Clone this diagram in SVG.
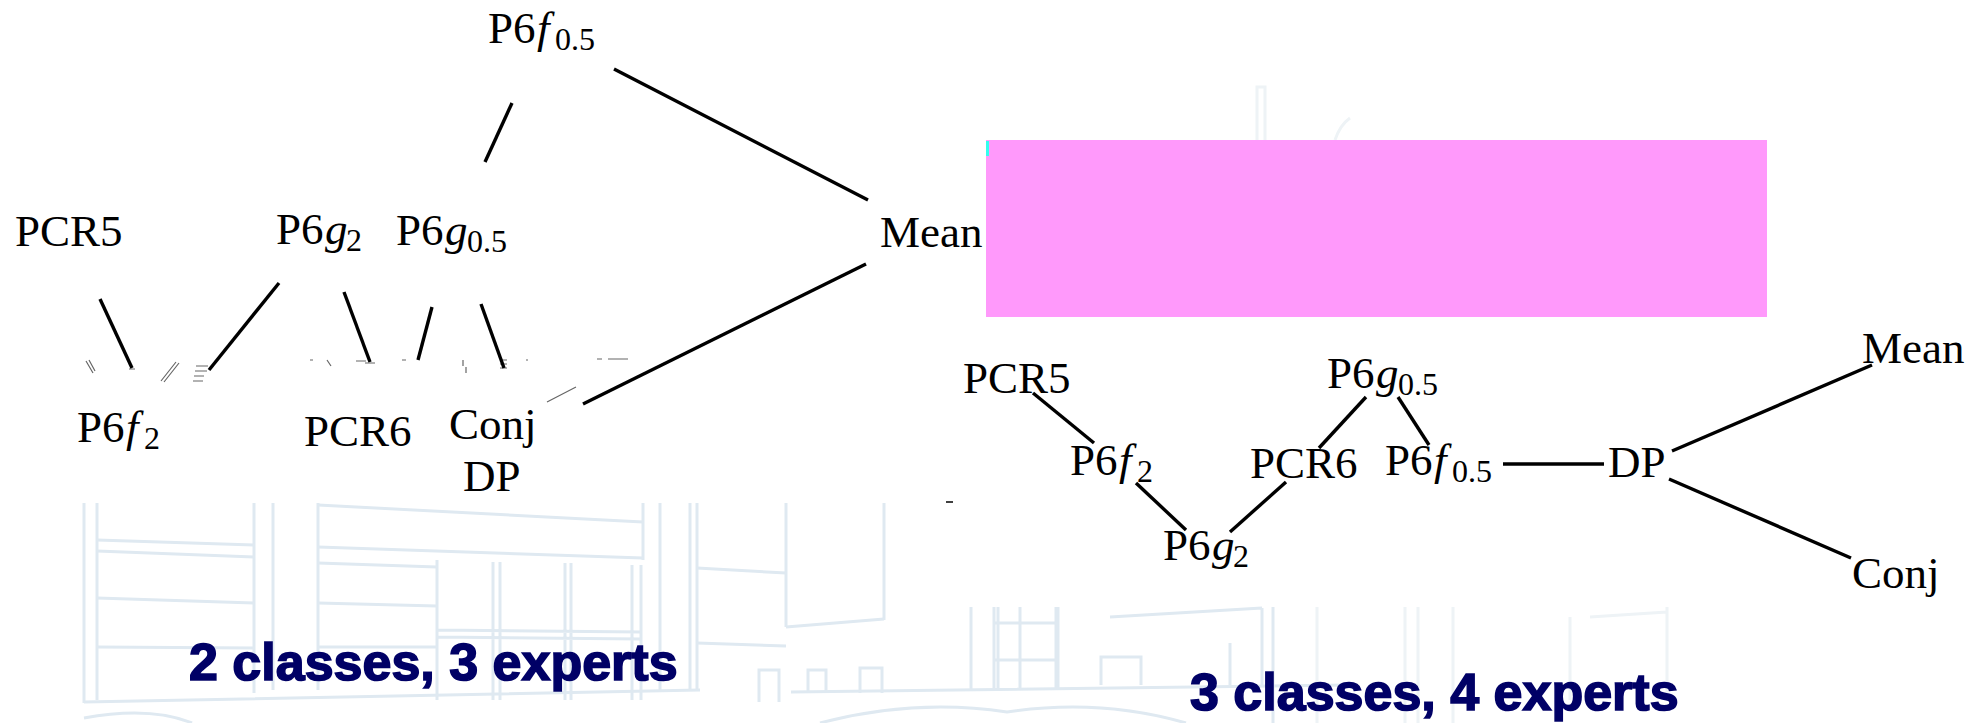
<svg xmlns="http://www.w3.org/2000/svg" width="1984" height="723" viewBox="0 0 1984 723">
<style>
.lbl{font-family:"Liberation Serif","Times New Roman",serif;font-size:45px;fill:#000}
.it{font-style:italic}
.sub{font-size:32px}
.cap{font-family:"Liberation Sans",Arial,sans-serif;font-weight:bold;font-size:52px;fill:#000066;stroke:#000066;stroke-width:1.6}
.edge{stroke:#000;stroke-width:3.4;stroke-linecap:butt;fill:none}
.bg{stroke:#dfe9f1;stroke-width:3;fill:none}
.bgf{stroke:#eef3f6;stroke-width:3;fill:none}
.art{stroke:#666;stroke-width:1.2;fill:none}
</style>
<rect x="0" y="0" width="1984" height="723" fill="#fff"/>

<g id="background">
  <path class="bg" d="M84 503V703M97 503V700M254 503V693M273 503V690M318 503V690M643 503V560M660 503V690M690 503V690M697 503V690M786 503V627M884 503V620"/>
  <path class="bg" d="M97 540L254 545M97 551L254 557M97 598L254 603M97 647L254 648"/>
  <path class="bg" d="M318 505L643 522M318 547L643 558M318 563L437 567M318 603L437 606M318 647L437 647"/>
  <path class="bg" d="M437 560V700M493 562V700M500 562V700M565 563V700M571 563V700M632 565V700M641 565V700M437 630L641 632M437 637L641 639"/>
  <path class="bg" d="M697 568L786 573M697 643L786 646M786 627L884 619"/>
  <path class="bg" d="M84 702L700 690M791 692L1350 685"/>
  <path class="bg" d="M759 702V670H779V702M808 693V670H826V693M860 693V668H882V693"/>
  <path class="bg" d="M84 718Q150 706 192 723M820 723Q915 698 1007 712Q1100 698 1186 723"/>
  <path class="bg" d="M971 607V690M994 607V688M998 607V688M1020 607V688M1056 607V688M1058 607V688M994 623H1058M994 660H1058"/>
  <path class="bg" d="M1101 685V657H1141V685M1110 617L1262 608M1262 608V685M1273 607V723M1230 643V685"/>
  <path class="bgf" d="M1317 607V723M1405 607V723M1418 607V723M1453 607V723M1570 617V700M1590 617L1667 612M1667 607V700"/>
  <path class="bgf" d="M1257 140V87H1265V140M1335 140Q1340 125 1350 118"/>
</g>

<rect x="986" y="140" width="781" height="177" fill="#ff99fb"/>
<rect x="986" y="141" width="3" height="15" fill="#33ffee"/>

<g id="artifacts">
  <path class="art" d="M86 361L93 373M89 360L95 371M129 369H135M161 381L176 362M164 382L179 363M196 366H208M195 371H207M194 376H204M193 381H203M310 360H313M327 360L331 366M356 361H366M365 363H375M402 360H406M463 360V366M466 367V373M500 360H507M500 364H507M500 368H507M526 360H528M597 359H602M608 359H628M547 402L576 387"/>
</g>

<g id="connectors">
  <path class="edge" d="M614 69L868 200"/>
  <path class="edge" d="M512 103L485 162"/>
  <path class="edge" d="M866 264L583 404"/>
  <path class="edge" d="M100 299L132 368"/>
  <path class="edge" d="M279 283L209 370"/>
  <path class="edge" d="M344 292L370 362"/>
  <path class="edge" d="M432 307L418 360"/>
  <path class="edge" d="M481 304L504 368"/>
  <path class="edge" d="M1033 393L1094 443"/>
  <path class="edge" d="M1136 483L1186 530"/>
  <path class="edge" d="M1230 532L1286 482"/>
  <path class="edge" d="M1319 448L1366 397"/>
  <path class="edge" d="M1398 397L1429 445"/>
  <path class="edge" d="M1503 464L1604 464"/>
  <path class="edge" d="M1672 451L1872 365"/>
  <path class="edge" d="M1669 479L1851 558"/>
  <path class="edge" d="M946 502H953" style="stroke-width:1.5"/>
</g>

<g id="L-P6f05"><text class="lbl" x="488" y="43">P6<tspan class="it" x="537">f</tspan><tspan class="sub" x="555" dy="7">0.5</tspan></text></g>
<g id="L-PCR5"><text class="lbl" x="15" y="246">PCR5</text></g>
<g id="L-P6g2"><text class="lbl" x="276" y="244">P6<tspan class="it" x="325">g</tspan><tspan class="sub" x="346" dy="7">2</tspan></text></g>
<g id="L-P6g05"><text class="lbl" x="396" y="245">P6<tspan class="it" x="445">g</tspan><tspan class="sub" x="467" dy="7">0.5</tspan></text></g>
<g id="L-Mean"><text class="lbl" x="880" y="247">Mean</text></g>
<g id="L-P6f2"><text class="lbl" x="77" y="442">P6<tspan class="it" x="126">f</tspan><tspan class="sub" x="144" dy="7">2</tspan></text></g>
<g id="L-PCR6"><text class="lbl" x="304" y="446">PCR6</text></g>
<g id="L-Conj"><text class="lbl" x="449" y="439">Conj</text></g>
<g id="L-DP"><text class="lbl" x="463" y="491">DP</text></g>

<g id="R-PCR5"><text class="lbl" x="963" y="393">PCR5</text></g>
<g id="R-P6f2"><text class="lbl" x="1070" y="475">P6<tspan class="it" x="1119">f</tspan><tspan class="sub" x="1137" dy="7">2</tspan></text></g>
<g id="R-P6g2"><text class="lbl" x="1163" y="560">P6<tspan class="it" x="1212">g</tspan><tspan class="sub" x="1233" dy="7">2</tspan></text></g>
<g id="R-PCR6"><text class="lbl" x="1250" y="478">PCR6</text></g>
<g id="R-P6g05"><text class="lbl" x="1327" y="388">P6<tspan class="it" x="1376">g</tspan><tspan class="sub" x="1398" dy="7">0.5</tspan></text></g>
<g id="R-P6f05"><text class="lbl" x="1385" y="475">P6<tspan class="it" x="1434">f</tspan><tspan class="sub" x="1452" dy="7">0.5</tspan></text></g>
<g id="R-DP"><text class="lbl" x="1608" y="477">DP</text></g>
<g id="R-Mean"><text class="lbl" x="1862" y="363">Mean</text></g>
<g id="R-Conj"><text class="lbl" x="1852" y="588">Conj</text></g>

<g id="captions">
  <text class="cap" x="189" y="680">2 classes, 3 experts</text>
  <text class="cap" x="1190" y="710">3 classes, 4 experts</text>
</g>
</svg>
